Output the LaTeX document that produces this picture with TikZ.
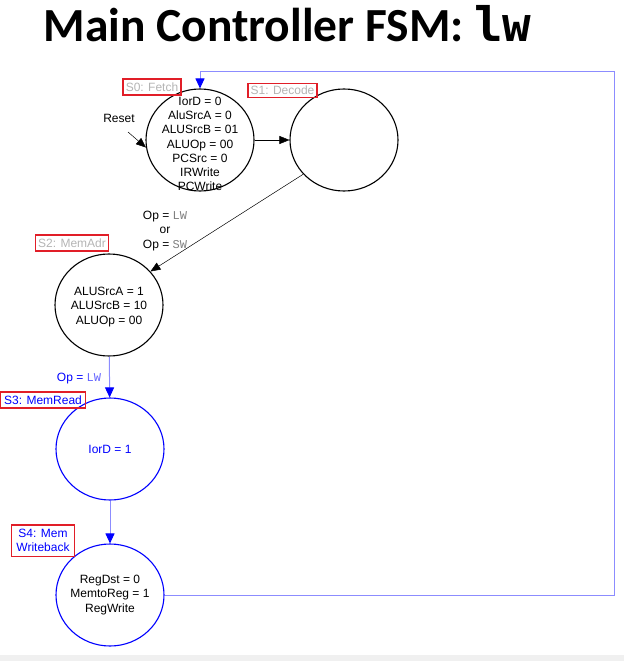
\documentclass[tikz,border=0pt]{standalone}
\usepackage{xcolor}
\usepackage{fontspec}
\setmainfont{Liberation Sans}
\newfontfamily\titlefont{Carlito}
\newfontfamily\titlecode{DejaVu Sans Mono}
\newfontfamily\codefont{Liberation Mono}
\usepackage{tikz}
\usetikzlibrary{arrows.meta,shapes.geometric}
\definecolor{fsmblue}{RGB}{0,0,255}
\definecolor{fsmlightblue}{RGB}{140,140,255}
\definecolor{lblgray}{RGB}{180,180,180}
\definecolor{lblred}{RGB}{225,30,40}
\newcommand{\fsmtext}{\fontsize{12}{14.2}\selectfont}

\begin{document}
\begin{tikzpicture}[x=1pt,y=-1pt,
  state/.style={ellipse,draw,line width=1.1pt,minimum width=108pt,minimum height=102pt,inner sep=0pt},
  statetext/.style={align=center,font=\fsmtext,inner sep=0pt},
  statelabel/.style={draw=lblred,line width=1.7pt,text=lblgray,font=\fsmtext,inner xsep=2.5pt,inner ysep=3.5pt,align=center},
  trans/.style={line width=0.5pt,-{Triangle[length=10pt,width=8pt]}},
  bluetrans/.style={fsmlightblue,line width=1pt,-{Triangle[length=10pt,width=9pt,color=fsmblue]}}]
\useasboundingbox (0,0) rectangle (624,661);
\fill[gray!12] (0,655) rectangle (624,661);

\node[anchor=base west,font=\titlefont\fontsize{47.5}{52}\selectfont\bfseries] (title) at (40,42)
  {Main Controller FSM: {\titlecode\bfseries lw}};

% states
\node[state,label={[statetext,yshift=-4pt]center:IorD = 0\\AluSrcA = 0\\ALUSrcB = 01\\ALUOp = 00\\PCSrc = 0\\IRWrite\\PCWrite}] (s0) at (200,140) {};
\node[state] (s1) at (344,140) {};
\node[state,label={[statetext,yshift=-2pt]center:ALUSrcA = 1\\ALUSrcB = 10\\ALUOp = 00}] (s2) at (109,305) {};
\node[state,draw=fsmblue,label={[statetext,text=fsmblue]center:IorD = 1}] (s3) at (110,449) {};
\node[state,draw=fsmblue,label={[statetext]center:RegDst = 0\\MemtoReg = 1\\RegWrite}] (s4) at (110,595) {};

% state names
\node[statelabel] (s0name) at (152,87) {S0: Fetch};
\node[statelabel,inner ysep=2.5pt] (s1name) at (282.5,90.5) {S1: Decode};
\node[statelabel] (s2name) at (72,243) {S2: MemAdr};
\node[statelabel,text=fsmblue,inner xsep=3.5pt] (s3name) at (43,400) {S3: MemRead};
\node[statelabel,text=fsmblue,inner xsep=5pt,inner ysep=4.5pt] (s4name) at (43,540.5) {S4: Mem\\Writeback};

% transitions
\node[font=\fsmtext] (reset) at (119,118) {Reset};
\coordinate (resettail) at (128,132);
\draw[trans] (resettail) -- (s0.188);
\draw[trans] (s0) -- (s1);
\draw[trans] (s1.220) -- (s2.39);
\node[statetext] (opmem) at (165,231) {Op = {\codefont\color{gray}LW}\\or\\Op = {\codefont\color{gray}SW}};
\draw[bluetrans] (s2) -- (s3);
\node[font=\fsmtext,text=fsmblue] (oplw) at (79,379) {Op = {\codefont\color{fsmblue!60}LW}};
\draw[bluetrans] (s3) -- (s4);
\coordinate (loopright) at (614,72);
\draw[bluetrans] (s4.east) -| (loopright) -| (s0.north);
\end{tikzpicture}
\end{document}
